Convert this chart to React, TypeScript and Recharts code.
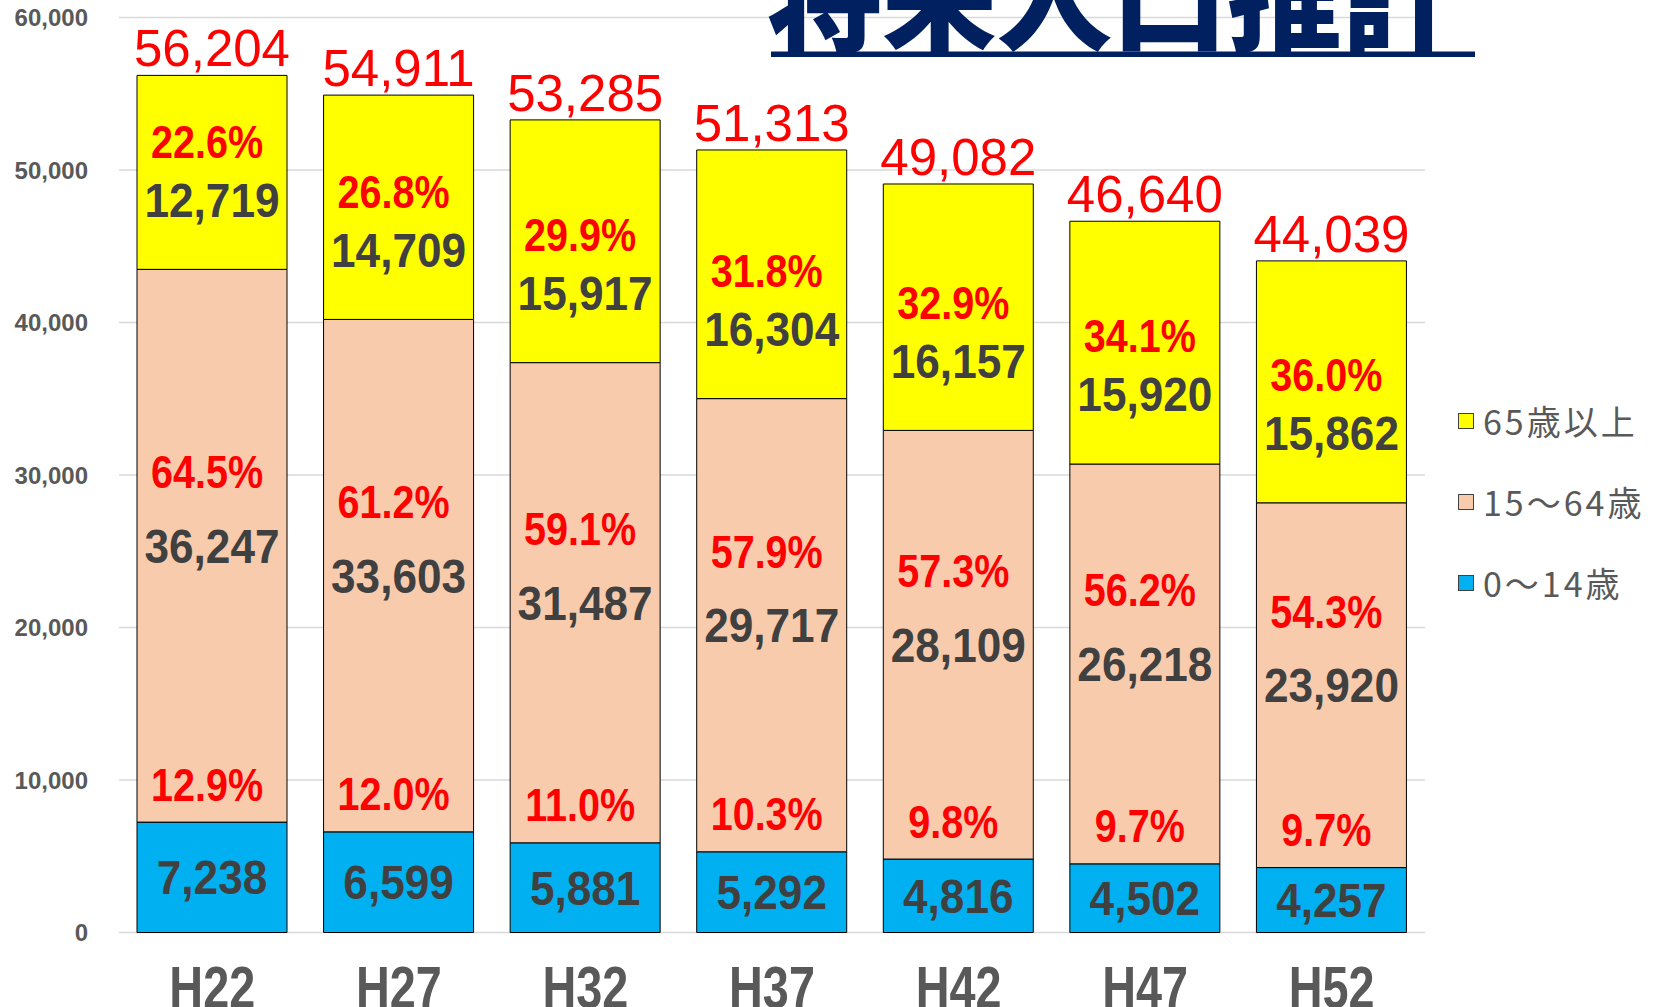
import React from "react";
import { BarChart, Bar, XAxis, YAxis, CartesianGrid, LabelList } from "recharts";

const years = ["H22", "H27", "H32", "H37", "H42", "H47", "H52"];
const age0to14 = [7238, 6599, 5881, 5292, 4816, 4502, 4257];
const age15to64 = [36247, 33603, 31487, 29717, 28109, 26218, 23920];
const age65plus = [12719, 14709, 15917, 16304, 16157, 15920, 15862];
const totals = [56204, 54911, 53285, 51313, 49082, 46640, 44039];
const pct0to14 = ["12.9%", "12.0%", "11.0%", "10.3%", "9.8%", "9.7%", "9.7%"];
const pct15to64 = ["64.5%", "61.2%", "59.1%", "57.9%", "57.3%", "56.2%", "54.3%"];
const pct65plus = ["22.6%", "26.8%", "29.9%", "31.8%", "32.9%", "34.1%", "36.0%"];
const yTicks = [0, 10000, 20000, 30000, 40000, 50000, 60000];
const seriesNames = ["0～14歳", "15～64歳", "65歳以上"];
const seriesColors = ["#00B0F0", "#F8CBAD", "#FFFF00"];
const title = "将来人口推計";

const data = years.map((year, i) => ({
  year,
  young: age0to14[i],
  working: age15to64[i],
  elderly: age65plus[i],
  total: totals[i],
  pctYoung: pct0to14[i],
  pctWorking: pct15to64[i],
  pctElderly: pct65plus[i],
}));

const NUM_FONT = '"Liberation Sans", Arial, sans-serif';
const CJK_FONT = '"Noto Sans CJK JP", "Noto Sans", sans-serif';
const RED = "#FF0000";
const DARK = "#404040";

// text centred on (cx, cy) with optional horizontal squeeze
const Txt = ({ cx, cy, text, size, bold, color, sx = 1 }: any) => (
  <text
    transform={`translate(${cx},${cy + size * 0.358}) scale(${sx},1)`}
    textAnchor="middle"
    fontSize={size}
    fontWeight={bold ? 700 : 400}
    fill={color}
    fontFamily={NUM_FONT}
  >
    {text}
  </text>
);

const fmt = (v: number) => Number(v).toLocaleString("en-US");

const valueLabel = (p: any) => {
  const { x, y, width, height, value } = p;
  return <Txt cx={x + width / 2} cy={y + height / 2} text={fmt(value)} size={48} bold color={DARK} sx={0.92} />;
};

const workingPctLabel = (p: any) => {
  const { x, y, width, height, value } = p;
  return <Txt cx={x + width / 2 - 5} cy={y + height / 2 - 74} text={value} size={46} bold color={RED} sx={0.86} />;
};

// percent of the 0-14 group sits just above the blue segment
const youngPctLabel = (p: any) => {
  const { x, y, width, height, value } = p;
  return <Txt cx={x + width / 2 - 5} cy={y + height - 38} text={value} size={46} bold color={RED} sx={0.86} />;
};

const elderlyValueLabel = (p: any) => {
  const { x, y, width, height, value } = p;
  return <Txt cx={x + width / 2} cy={y + height - 70} text={fmt(value)} size={48} bold color={DARK} sx={0.92} />;
};

const elderlyPctLabel = (p: any) => {
  const { x, y, width, height, value } = p;
  return <Txt cx={x + width / 2 - 5} cy={y + height - 128} text={value} size={46} bold color={RED} sx={0.86} />;
};

const totalLabel = (p: any) => {
  const { x, y, width, value } = p;
  return <Txt cx={x + width / 2} cy={y - 9 - 51 * 0.358} text={fmt(value)} size={51} color={RED} />;
};

const XTick = ({ x, y, payload }: any) => (
  <text
    transform={`translate(${x},${y + 75}) scale(0.78,1)`}
    textAnchor="middle"
    fontSize={60}
    fontWeight={700}
    fill="#595959"
    fontFamily={NUM_FONT}
  >
    {payload.value}
  </text>
);

const LegendBox = () => (
  <div style={{ position: "absolute", left: 1458, top: 380, display: "flex", flexDirection: "column" }}>
    {[2, 1, 0].map((i) => (
      <div key={i} style={{ height: 81, display: "flex", alignItems: "center" }}>
        <span
          style={{
            width: 14,
            height: 14,
            background: seriesColors[i],
            border: "1px solid #404040",
            marginRight: 9,
          }}
        />
        <span
          style={{
            fontFamily: CJK_FONT,
            fontSize: 34,
            lineHeight: 1,
            color: "#595959",
            letterSpacing: 3,
          }}
        >
          {seriesNames[i]}
        </span>
      </div>
    ))}
  </div>
);

export default function App() {
  return (
    <div
      style={{
        position: "fixed",
        top: 0,
        left: 0,
        width: 1661,
        height: 1007,
        overflow: "hidden",
        background: "#fff",
      }}
    >
      <BarChart
        width={1661}
        height={1007}
        data={data}
        margin={{ top: 17.5, right: 236, left: 0, bottom: 0 }}
      >
        <CartesianGrid vertical={false} stroke="#D9D9D9" strokeWidth={1.5} />
        <XAxis dataKey="year" height={74.5} axisLine={false} tickLine={false} tickSize={0} tickMargin={0} tick={<XTick />} interval={0} />
        <YAxis
          width={119}
          domain={[0, 60000]}
          ticks={yTicks}
          axisLine={false}
          tickLine={false}
          tickSize={0}
          tickMargin={31}
          tickFormatter={fmt}
          tick={{ fontSize: 24, fontWeight: 700, fill: "#595959", fontFamily: NUM_FONT }}
        />
        <Bar dataKey="young" name={seriesNames[0]} stackId="a" fill={seriesColors[0]} stroke="#000" strokeWidth={1} barSize={150} isAnimationActive={false}>
          <LabelList dataKey="young" content={valueLabel} />
        </Bar>
        <Bar dataKey="working" name={seriesNames[1]} stackId="a" fill={seriesColors[1]} stroke="#000" strokeWidth={1} barSize={150} isAnimationActive={false}>
          <LabelList dataKey="working" content={valueLabel} />
          <LabelList dataKey="pctWorking" content={workingPctLabel} />
          <LabelList dataKey="pctYoung" content={youngPctLabel} />
        </Bar>
        <Bar dataKey="elderly" name={seriesNames[2]} stackId="a" fill={seriesColors[2]} stroke="#000" strokeWidth={1} barSize={150} isAnimationActive={false}>
          <LabelList dataKey="elderly" content={elderlyValueLabel} />
          <LabelList dataKey="pctElderly" content={elderlyPctLabel} />
          <LabelList dataKey="total" content={totalLabel} />
        </Bar>
      </BarChart>
      <LegendBox />
      <svg width={1661} height={1007} style={{ position: "absolute", top: 0, left: 0, pointerEvents: "none" }}>
        <text x={767} y={42} fontSize={115} fontWeight={900} fill="#002060" fontFamily={CJK_FONT}>
          {title}
        </text>
        <rect x={771} y={51.5} width={704} height={5.5} fill="#002060" />
      </svg>
    </div>
  );
}
